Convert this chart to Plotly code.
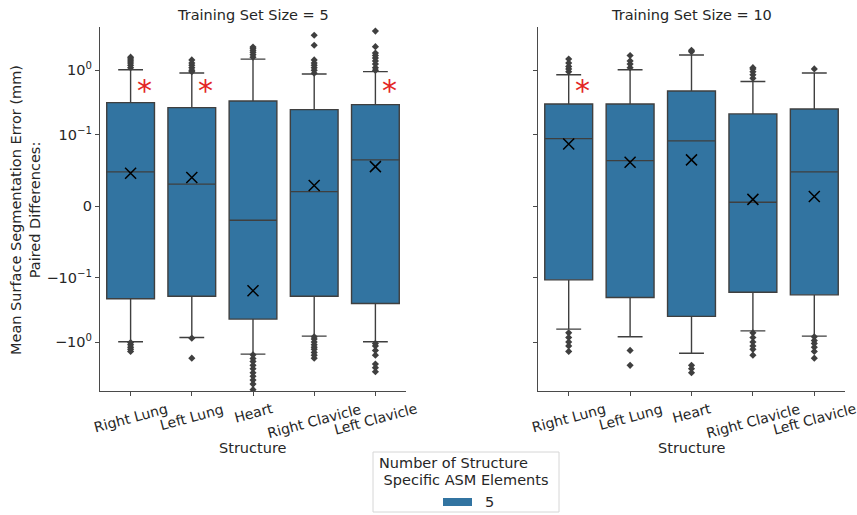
import math
import plotly.graph_objects as go

# ---- data (values in mm) -------------------------------------------------
structures = ["Right Lung", "Left Lung", "Heart", "Right Clavicle", "Left Clavicle"]
panel_titles = ["Training Set Size = 5", "Training Set Size = 10"]

# Training set size = 5
q1_5 = [-0.213, -0.194, -0.44, -0.194, -0.252]
median_5 = [0.048, 0.0308, -0.0196, 0.0204, 0.0647]
q3_5 = [0.315, 0.263, 0.334, 0.245, 0.293]
lower_5 = [-0.99, -0.85, -1.54, -0.81, -0.99]
upper_5 = [1.02, 0.91, 1.49, 0.877, 0.953]
mean_5 = [0.046, 0.040, -0.16, 0.0288, 0.0553]
outliers_5 = [
    [1.1, 1.2, 1.3, 1.4, 1.5, 1.6, -1.02, -1.1, -1.2, -1.3, -1.4],
    [0.95, 1.0, 1.1, 1.2, 1.3, 1.45, -0.87, -1.78],
    [1.6, 1.75, 1.9, 2.05, 2.2, 2.3,
     -1.58, -1.8, -2.0, -2.3, -2.6, -3.0, -3.4, -3.9, -4.5, -5.5],
    [0.9, 1.0, 1.1, 1.2, 1.3, 1.45, 2.45, 3.5,
     -0.83, -0.9, -1.0, -1.1, -1.2, -1.3, -1.45, -1.6, -1.78],
    [1.0, 1.1, 1.25, 1.4, 1.55, 1.7, 1.85, 2.33, 4.07,
     -1.05, -1.15, -1.35, -1.6, -2.2, -2.5, -2.9],
]
significant_5 = [True, True, False, False, True]

# Training set size = 10
q1_10 = [-0.108, -0.203, -0.40, -0.168, -0.185]
median_10 = [0.0945, 0.0637, 0.0913, 0.0055, 0.048]
q3_10 = [0.299, 0.299, 0.477, 0.21, 0.251]
lower_10 = [-0.63, -0.83, -1.49, -0.67, -0.81]
upper_10 = [0.855, 1.02, 1.73, 0.67, 0.91]
mean_10 = [0.087, 0.0615, 0.0647, 0.0095, 0.0135]
outliers_10 = [
    [0.95, 1.05, 1.15, 1.3, 1.5, -0.72, -0.85, -1.0, -1.15, -1.4],
    [1.1, 1.25, 1.4, 1.7, -1.35, -2.3],
    [1.95, 2.05, -2.3, -2.6, -3.0],
    [0.75, 0.85, 0.95, 1.05, 1.1, -0.72, -0.85, -1.0, -1.15, -1.3, -1.6],
    [1.05, -0.83, -0.95, -1.05, -1.2, -1.4, -1.78],
]
significant_10 = [True, False, False, False, False]

legend_title = ["Number of Structure", " Specific ASM Elements"]
legend_label = "5"

# ---- symmetric-log scale (linthresh 0.1, base 10, linscale 1) --------------
LINTHRESH = 0.1
LINSCALE_ADJ = 1.0 / (1.0 - 1.0 / 10.0)


def symlog(v):
    a = abs(v)
    if a <= LINTHRESH:
        return v / LINTHRESH * LINSCALE_ADJ
    return math.copysign(LINSCALE_ADJ + math.log10(a / LINTHRESH), v)


def tr(values):
    return [symlog(v) for v in values]


W, H = 857, 515
BOX_COLOR = "#3274a1"
EDGE = "#3f3f3f"
TEXT = "#262626"
FONT = "DejaVu Sans"
FS = 14.5
FS_TICK = 14

x_domains = [[100 / W, 406 / W], [538 / W, 845 / W]]
y_domain = [1 - 391 / H, 1 - 27 / H]
y_range = [-2.872, 2.784]
star_level = 0.57

fig = go.Figure()

panels = [
    (q1_5, median_5, q3_5, lower_5, upper_5, mean_5, outliers_5, significant_5),
    (q1_10, median_10, q3_10, lower_10, upper_10, mean_10, outliers_10, significant_10),
]

positions = list(range(len(structures)))

for p, (q1, med, q3, lo, hi, mean, outs, sig) in enumerate(panels):
    xa = "x" if p == 0 else "x2"
    ya = "y" if p == 0 else "y2"
    fig.add_trace(go.Box(
        x=positions, q1=tr(q1), median=tr(med), q3=tr(q3),
        lowerfence=tr(lo), upperfence=tr(hi),
        width=0.78, whiskerwidth=0.52, boxpoints=False,
        fillcolor=BOX_COLOR, line=dict(color=EDGE, width=1.4),
        xaxis=xa, yaxis=ya, showlegend=False, hoverinfo="skip",
    ))
    ox, oy = [], []
    for i, vals in enumerate(outs):
        ox += [i] * len(vals)
        oy += tr(vals)
    fig.add_trace(go.Scatter(
        x=ox, y=oy, mode="markers",
        marker=dict(symbol="diamond", size=5.5, color=EDGE),
        xaxis=xa, yaxis=ya, showlegend=False, hoverinfo="skip",
    ))
    fig.add_trace(go.Scatter(
        x=positions, y=tr(mean), mode="markers",
        marker=dict(symbol="x-thin", size=11, line=dict(color="black", width=1.5)),
        xaxis=xa, yaxis=ya, showlegend=False, hoverinfo="skip",
    ))
    for i, s in enumerate(sig):
        if s:
            fig.add_annotation(
                x=i + 0.23, y=symlog(star_level), xref=xa, yref=ya,
                text="*", showarrow=False, font=dict(family=FONT, size=30, color="#e32626"),
                xanchor="center", yanchor="middle", yshift=-4,
            )
    # category labels, rotated and centred on each tick
    for i, name in enumerate(structures):
        fig.add_annotation(
            x=i, y=1 - 398 / H, xref=xa, yref="paper", text=name, showarrow=False,
            textangle=-15, xanchor="center", yanchor="top",
            font=dict(family=FONT, size=FS_TICK, color=TEXT),
        )
    xc = sum(x_domains[p]) / 2
    fig.add_annotation(x=xc, y=1 - 448 / H, xref="paper", yref="paper", text="Structure",
                       showarrow=False, xanchor="center", yanchor="middle",
                       font=dict(family=FONT, size=FS, color=TEXT))
    fig.add_annotation(x=xc, y=1 - 15 / H, xref="paper", yref="paper", text=panel_titles[p],
                       showarrow=False, xanchor="center", yanchor="middle",
                       font=dict(family=FONT, size=FS, color=TEXT))

axis_common = dict(showline=True, linecolor="#4a4a4a", linewidth=1.2, ticks="outside",
                   ticklen=4, tickwidth=1.1, tickcolor="#4a4a4a", showgrid=False,
                   zeroline=False, tickfont=dict(family=FONT, size=FS, color=TEXT))

xkw = dict(axis_common, range=[-0.5, 4.5], tickvals=positions, showticklabels=False)
ykw = dict(axis_common, range=y_range, domain=y_domain,
           tickvals=tr([1, 0.1, 0, -0.1, -1]),
           ticktext=["10<sup>0</sup>", "10<sup>\u22121</sup>", "0",
                     "\u221210<sup>\u22121</sup>", "\u221210<sup>0</sup>"])

fig.update_layout(
    width=W, height=H, margin=dict(l=0, r=0, t=0, b=0),
    paper_bgcolor="white", plot_bgcolor="white",
    xaxis=dict(xkw, domain=x_domains[0], anchor="y"),
    xaxis2=dict(xkw, domain=x_domains[1], anchor="y2"),
    yaxis=dict(ykw, anchor="x"),
    yaxis2=dict(ykw, anchor="x2", matches="y", showticklabels=False),
    showlegend=False,
)

# y-axis label (two lines)
fig.add_annotation(x=25 / W, y=1 - 210 / H, xref="paper", yref="paper",
                   text="Mean Surface Segmentation Error (mm)<br>Paired Differences:",
                   showarrow=False, textangle=-90, xanchor="center", yanchor="middle",
                   font=dict(family=FONT, size=FS, color=TEXT))

# legend
fig.add_shape(type="rect", xref="paper", yref="paper",
              x0=373 / W, x1=559 / W, y0=1 - 512 / H, y1=1 - 452 / H,
              line=dict(color="#d6d6d6", width=1), fillcolor="white")
fig.add_annotation(x=377 / W, y=1 - 463 / H, xref="paper", yref="paper", text=legend_title[0],
                   showarrow=False, xanchor="left", yanchor="middle",
                   font=dict(family=FONT, size=FS, color=TEXT))
fig.add_annotation(x=377 / W, y=1 - 480 / H, xref="paper", yref="paper",
                   text="&nbsp;" + legend_title[1].strip(),
                   showarrow=False, xanchor="left", yanchor="middle",
                   font=dict(family=FONT, size=FS, color=TEXT))
fig.add_shape(type="rect", xref="paper", yref="paper",
              x0=443 / W, x1=472 / W, y0=1 - 506 / H, y1=1 - 498 / H,
              line=dict(color=BOX_COLOR, width=0), fillcolor=BOX_COLOR)
fig.add_annotation(x=483 / W, y=1 - 502 / H, xref="paper", yref="paper", text=legend_label,
                   showarrow=False, xanchor="left", yanchor="middle",
                   font=dict(family=FONT, size=FS, color=TEXT))

fig.write_html("out.html")
